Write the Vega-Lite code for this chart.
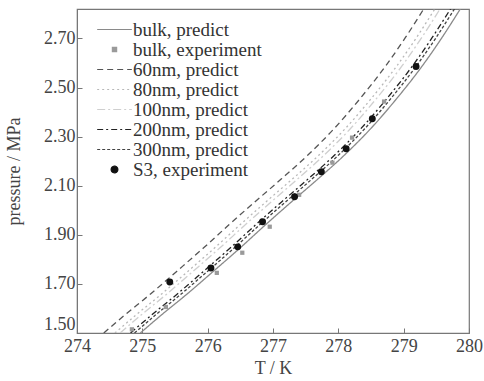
{
  "$schema": "https://vega.github.io/schema/vega-lite/v6.json",
  "width": 392,
  "height": 324,
  "autosize": {"type": "none"},
  "padding": {"left": 77, "top": 9, "right": 15, "bottom": 48},
  "background": "white",
  "config": {
    "view": {"stroke": "#777", "strokeWidth": 1.2},
    "font": "Liberation Serif",
    "style": {
      "guide-label": {"font": "Liberation Serif", "fill": "#444"},
      "guide-title": {"font": "Liberation Serif", "fill": "#444"}
    },
    "legend": {"labelFont": "Liberation Serif"},
    "axis": {
      "labelFont": "Liberation Serif", "labelFontSize": 18, "labelColor": "#444",
      "titleFont": "Liberation Serif", "titleFontSize": 18, "titleColor": "#444", "titleFontWeight": "normal",
      "domainColor": "#777", "tickColor": "#777", "grid": false, "tickSize": -5, "labelFlush": false
    }
  },
  "datasets": {
    "curves": [
      {"s": "bulk, predict", "T": 274.97, "P": 1.500}, {"s": "bulk, predict", "T": 275.29, "P": 1.573}, {"s": "bulk, predict", "T": 275.69, "P": 1.660}, {"s": "bulk, predict", "T": 276.09, "P": 1.752}, {"s": "bulk, predict", "T": 276.49, "P": 1.845}, {"s": "bulk, predict", "T": 276.89, "P": 1.942}, {"s": "bulk, predict", "T": 277.29, "P": 2.036}, {"s": "bulk, predict", "T": 277.69, "P": 2.128}, {"s": "bulk, predict", "T": 278.09, "P": 2.224}, {"s": "bulk, predict", "T": 278.49, "P": 2.331}, {"s": "bulk, predict", "T": 278.89, "P": 2.454}, {"s": "bulk, predict", "T": 279.29, "P": 2.590}, {"s": "bulk, predict", "T": 279.59, "P": 2.705}, {"s": "bulk, predict", "T": 279.89, "P": 2.830},
      {"s": "60nm, predict", "T": 274.41, "P": 1.500}, {"s": "60nm, predict", "T": 274.73, "P": 1.573}, {"s": "60nm, predict", "T": 275.13, "P": 1.660}, {"s": "60nm, predict", "T": 275.53, "P": 1.752}, {"s": "60nm, predict", "T": 275.93, "P": 1.845}, {"s": "60nm, predict", "T": 276.33, "P": 1.942}, {"s": "60nm, predict", "T": 276.73, "P": 2.036}, {"s": "60nm, predict", "T": 277.13, "P": 2.128}, {"s": "60nm, predict", "T": 277.53, "P": 2.224}, {"s": "60nm, predict", "T": 277.93, "P": 2.331}, {"s": "60nm, predict", "T": 278.33, "P": 2.454}, {"s": "60nm, predict", "T": 278.73, "P": 2.590}, {"s": "60nm, predict", "T": 279.03, "P": 2.705}, {"s": "60nm, predict", "T": 279.33, "P": 2.830},
      {"s": "80nm, predict", "T": 274.58, "P": 1.500}, {"s": "80nm, predict", "T": 274.90, "P": 1.573}, {"s": "80nm, predict", "T": 275.30, "P": 1.660}, {"s": "80nm, predict", "T": 275.70, "P": 1.752}, {"s": "80nm, predict", "T": 276.10, "P": 1.845}, {"s": "80nm, predict", "T": 276.50, "P": 1.942}, {"s": "80nm, predict", "T": 276.90, "P": 2.036}, {"s": "80nm, predict", "T": 277.30, "P": 2.128}, {"s": "80nm, predict", "T": 277.70, "P": 2.224}, {"s": "80nm, predict", "T": 278.10, "P": 2.331}, {"s": "80nm, predict", "T": 278.50, "P": 2.454}, {"s": "80nm, predict", "T": 278.90, "P": 2.590}, {"s": "80nm, predict", "T": 279.20, "P": 2.705}, {"s": "80nm, predict", "T": 279.50, "P": 2.830},
      {"s": "100nm, predict", "T": 274.66, "P": 1.500}, {"s": "100nm, predict", "T": 274.98, "P": 1.573}, {"s": "100nm, predict", "T": 275.38, "P": 1.660}, {"s": "100nm, predict", "T": 275.78, "P": 1.752}, {"s": "100nm, predict", "T": 276.18, "P": 1.845}, {"s": "100nm, predict", "T": 276.58, "P": 1.942}, {"s": "100nm, predict", "T": 276.98, "P": 2.036}, {"s": "100nm, predict", "T": 277.38, "P": 2.128}, {"s": "100nm, predict", "T": 277.78, "P": 2.224}, {"s": "100nm, predict", "T": 278.18, "P": 2.331}, {"s": "100nm, predict", "T": 278.58, "P": 2.454}, {"s": "100nm, predict", "T": 278.98, "P": 2.590}, {"s": "100nm, predict", "T": 279.28, "P": 2.705}, {"s": "100nm, predict", "T": 279.58, "P": 2.830},
      {"s": "200nm, predict", "T": 274.82, "P": 1.500}, {"s": "200nm, predict", "T": 275.14, "P": 1.573}, {"s": "200nm, predict", "T": 275.54, "P": 1.660}, {"s": "200nm, predict", "T": 275.94, "P": 1.752}, {"s": "200nm, predict", "T": 276.34, "P": 1.845}, {"s": "200nm, predict", "T": 276.74, "P": 1.942}, {"s": "200nm, predict", "T": 277.14, "P": 2.036}, {"s": "200nm, predict", "T": 277.54, "P": 2.128}, {"s": "200nm, predict", "T": 277.94, "P": 2.224}, {"s": "200nm, predict", "T": 278.34, "P": 2.331}, {"s": "200nm, predict", "T": 278.74, "P": 2.454}, {"s": "200nm, predict", "T": 279.14, "P": 2.590}, {"s": "200nm, predict", "T": 279.44, "P": 2.705}, {"s": "200nm, predict", "T": 279.74, "P": 2.830},
      {"s": "300nm, predict", "T": 274.88, "P": 1.500}, {"s": "300nm, predict", "T": 275.20, "P": 1.573}, {"s": "300nm, predict", "T": 275.60, "P": 1.660}, {"s": "300nm, predict", "T": 276.00, "P": 1.752}, {"s": "300nm, predict", "T": 276.40, "P": 1.845}, {"s": "300nm, predict", "T": 276.80, "P": 1.942}, {"s": "300nm, predict", "T": 277.20, "P": 2.036}, {"s": "300nm, predict", "T": 277.60, "P": 2.128}, {"s": "300nm, predict", "T": 278.00, "P": 2.224}, {"s": "300nm, predict", "T": 278.40, "P": 2.331}, {"s": "300nm, predict", "T": 278.80, "P": 2.454}, {"s": "300nm, predict", "T": 279.20, "P": 2.590}, {"s": "300nm, predict", "T": 279.50, "P": 2.705}, {"s": "300nm, predict", "T": 279.80, "P": 2.830}
    ],
    "points": [
      {"s": "bulk, experiment", "T": 274.84, "P": 1.515}, {"s": "bulk, experiment", "T": 275.36, "P": 1.606}, {"s": "bulk, experiment", "T": 276.14, "P": 1.745}, {"s": "bulk, experiment", "T": 276.53, "P": 1.827}, {"s": "bulk, experiment", "T": 276.95, "P": 1.933}, {"s": "bulk, experiment", "T": 277.40, "P": 2.063}, {"s": "bulk, experiment", "T": 277.91, "P": 2.194}, {"s": "bulk, experiment", "T": 278.21, "P": 2.296}, {"s": "bulk, experiment", "T": 278.70, "P": 2.443},
      {"s": "S3, experiment", "T": 275.42, "P": 1.708}, {"s": "S3, experiment", "T": 276.05, "P": 1.765}, {"s": "S3, experiment", "T": 276.46, "P": 1.851}, {"s": "S3, experiment", "T": 276.84, "P": 1.953}, {"s": "S3, experiment", "T": 277.33, "P": 2.055}, {"s": "S3, experiment", "T": 277.74, "P": 2.157}, {"s": "S3, experiment", "T": 278.12, "P": 2.251}, {"s": "S3, experiment", "T": 278.52, "P": 2.373}, {"s": "S3, experiment", "T": 279.19, "P": 2.586}
    ]
  },
  "layer": [
    {
      "data": {"name": "curves"},
      "mark": {"type": "line", "clip": true, "interpolate": "monotone", "strokeWidth": 1.3},
      "encoding": {
        "x": {"field": "T", "type": "quantitative", "scale": {"domain": [274, 280], "nice": false, "zero": false},
          "axis": {"title": "T / K", "values": [274, 275, 276, 277, 278, 279, 280], "format": "d", "labelPadding": 9, "titlePadding": 4,
                   "labelFont": "Liberation Serif", "titleFont": "Liberation Serif"}},
        "y": {"field": "P", "type": "quantitative", "scale": {"domain": [1.5, 2.82], "nice": false, "zero": false},
          "axis": {"title": "pressure / MPa", "values": [1.5, 1.7, 1.9, 2.1, 2.3, 2.5, 2.7], "format": ".2f", "labelPadding": 7, "titlePadding": 20,
                   "labelFlush": true, "labelFont": "Liberation Serif", "titleFont": "Liberation Serif"}},
        "color": {"field": "s", "type": "nominal",
          "scale": {"domain": ["bulk, predict", "bulk, experiment", "60nm, predict", "80nm, predict", "100nm, predict", "200nm, predict", "300nm, predict", "S3, experiment"],
                    "range": ["#8a8a8a", "#9a9a9a", "#555555", "#b8b8b8", "#cfcfcf", "#222222", "#444444", "#111111"]},
          "legend": {
            "title": null, "orient": "none", "legendX": 28, "legendY": 11, "padding": 0,
            "labelFont": "Liberation Serif", "labelFontSize": 19, "labelColor": "#333", "labelOffset": 9,
            "symbolType": "M-2,0H2", "symbolSize": 300, "symbolStrokeWidth": 1.2, "rowPadding": -1,
            "encode": {
              "labels": {"update": {"font": {"value": "Liberation Serif"}}},
              "symbols": {"update": {
              "shape": {"signal": "datum.value == 'S3, experiment' ? 'circle' : (datum.value == 'bulk, experiment' ? 'square' : 'M-2,0H2')"},
              "size": {"signal": "datum.value == 'S3, experiment' ? 45 : (datum.value == 'bulk, experiment' ? 18 : 300)"},
              "strokeDash": {"signal": "datum.value == '60nm, predict' ? [6,4] : (datum.value == '80nm, predict' ? [2,3] : (datum.value == '100nm, predict' ? [8,3,2,3] : (datum.value == '200nm, predict' ? [6,3,2,3] : (datum.value == '300nm, predict' ? [3,2] : [1,0]))))"},
              "fill": {"signal": "indexof(datum.value, 'experiment') >= 0 ? scale('color', datum.value) : 'transparent'"},
              "stroke": {"signal": "scale('color', datum.value)"},
              "opacity": {"value": 1}
            }}}
          }},
        "strokeDash": {"field": "s", "type": "nominal",
          "scale": {"domain": ["bulk, predict", "60nm, predict", "80nm, predict", "100nm, predict", "200nm, predict", "300nm, predict"],
                    "range": [[1, 0], [6, 4], [2, 3], [8, 3, 2, 3], [6, 3, 2, 3], [3, 2]]},
          "legend": null}
      }
    },
    {
      "data": {"name": "points"},
      "mark": {"type": "point", "filled": true, "opacity": 1, "clip": true},
      "encoding": {
        "x": {"field": "T", "type": "quantitative"},
        "y": {"field": "P", "type": "quantitative"},
        "color": {"field": "s", "type": "nominal"},
        "shape": {"field": "s", "type": "nominal", "scale": {"domain": ["bulk, experiment", "S3, experiment"], "range": ["square", "circle"]}, "legend": null},
        "size": {"field": "s", "type": "nominal", "scale": {"domain": ["bulk, experiment", "S3, experiment"], "range": [18, 48]}, "legend": null}
      }
    }
  ]
}
